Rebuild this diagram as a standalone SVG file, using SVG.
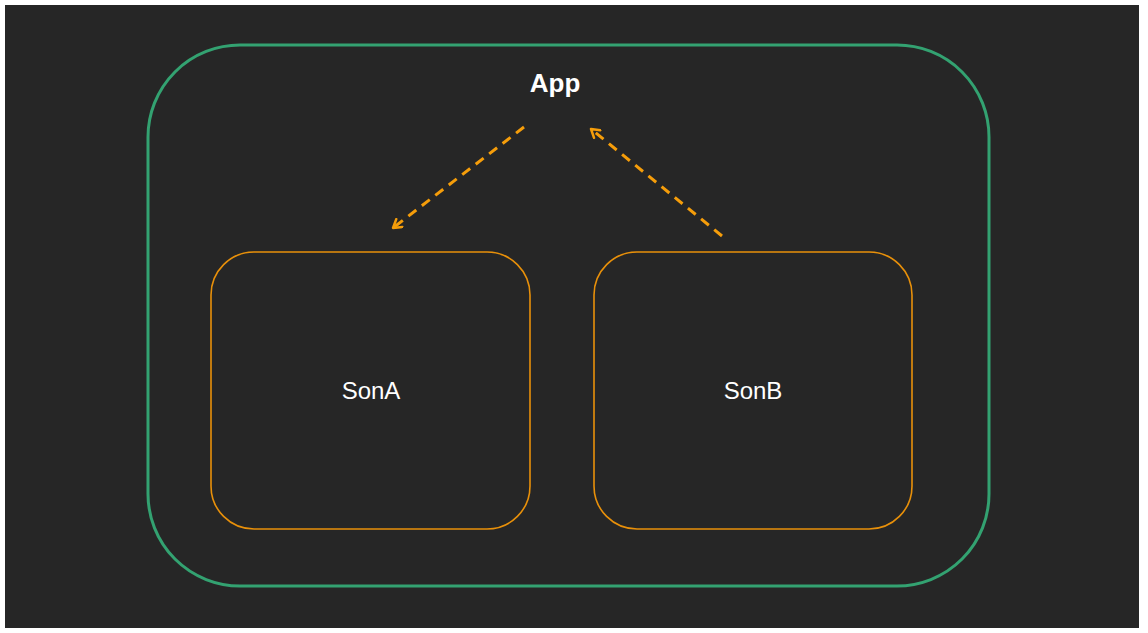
<svg xmlns="http://www.w3.org/2000/svg" width="1148" height="633" viewBox="0 0 1148 633">
<style>
.son{fill:none;stroke:#e8900a;stroke-width:1.6}
.lbl{font-family:"Liberation Sans",Arial,sans-serif;fill:#ffffff;text-anchor:middle}
.conn{fill:none;stroke:#f59d0a;stroke-width:3;stroke-dasharray:10 7}
</style>
<defs>
<marker id="ah" viewBox="0 0 12 12" refX="10" refY="6" markerWidth="12" markerHeight="12" markerUnits="userSpaceOnUse" orient="auto">
<path d="M2,1 L10,6 L2,11" fill="none" stroke="#f59d0a" stroke-width="2.5" stroke-linecap="round" stroke-linejoin="round"/>
</marker>
</defs>
<rect x="0" y="0" width="1148" height="633" fill="#ffffff"/>
<rect x="5" y="5" width="1134" height="623" fill="#262626"/>
<g id="app">
<rect x="148" y="45" width="841" height="541" rx="92" ry="92" fill="none" stroke="#33a271" stroke-width="3"/>
<text class="lbl" x="555" y="92" font-size="26" font-weight="bold">App</text>
</g>
<g id="sonA">
<rect class="son" x="211" y="252" width="319" height="277" rx="43" ry="43"/>
<text class="lbl" x="371" y="399" font-size="24">SonA</text>
</g>
<g id="sonB">
<rect class="son" x="594" y="252" width="318" height="277" rx="43" ry="43"/>
<text class="lbl" x="753" y="399" font-size="24">SonB</text>
</g>
<g id="connectors">
<path class="conn" d="M524,127 L393,228" marker-end="url(#ah)"/>
<path class="conn" d="M722,236 L591,129" stroke-dasharray="8 6" marker-end="url(#ah)"/>
</g>
</svg>
